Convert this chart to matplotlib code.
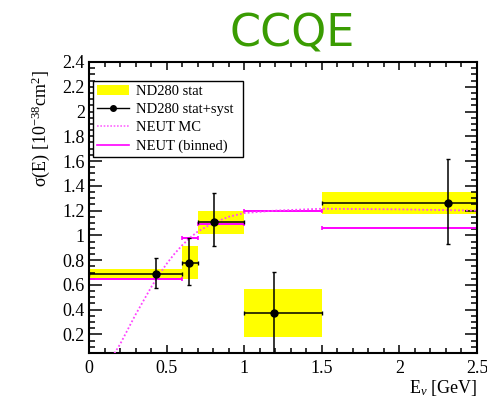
import numpy as np
import matplotlib
matplotlib.use("Agg")
import matplotlib.pyplot as plt
from matplotlib.patches import Rectangle
from matplotlib.ticker import MultipleLocator

plt.rcParams["font.family"] = ["Liberation Serif", "DejaVu Serif"]
plt.rcParams["mathtext.fontset"] = "custom"
plt.rcParams["mathtext.rm"] = "Liberation Serif"
plt.rcParams["mathtext.it"] = "Liberation Serif:italic"

# energy bins [GeV]
bin_lo = [0.0, 0.6, 0.7, 1.0, 1.5]
bin_hi = [0.6, 0.7, 1.0, 1.5, 2.5]

# ND280 measurement
pt_x = [0.43, 0.645, 0.805, 1.19, 2.31]
pt_y = [0.688, 0.78, 1.105, 0.372, 1.262]
stat_err = [0.044, 0.133, 0.093, 0.194, 0.088]
tot_err_lo = [0.11, 0.18, 0.19, 0.33, 0.33]
tot_err_hi = [0.13, 0.20, 0.24, 0.33, 0.355]

# NEUT prediction, binned
neut_binned = [0.645, 0.975, 1.09, 1.195, 1.06]

# NEUT MC curve
mc_e = [0.15, 0.2, 0.25, 0.3, 0.35, 0.4, 0.45, 0.5, 0.55, 0.6, 0.65, 0.7,
        0.8, 0.9, 1.0, 1.2, 1.5, 2.0, 2.5]
mc_xs = [0.02, 0.12, 0.24, 0.36, 0.47, 0.58, 0.68, 0.77, 0.85, 0.92, 0.98,
         1.03, 1.10, 1.15, 1.18, 1.20, 1.215, 1.21, 1.20]

x_ticks = [0, 0.5, 1, 1.5, 2, 2.5]
x_labels = ["0", "0.5", "1", "1.5", "2", "2.5"]
y_ticks = [0.2, 0.4, 0.6, 0.8, 1.0, 1.2, 1.4, 1.6, 1.8, 2.0, 2.2, 2.4]
y_labels = ["0.2", "0.4", "0.6", "0.8", "1", "1.2", "1.4", "1.6",
            "1.8", "2", "2.2", "2.4"]

W, H = 487, 397
fig = plt.figure(figsize=(W / 100, H / 100), dpi=100)
ax = fig.add_axes([89 / W, 1 - 353 / H, 388 / W, 291 / H])

lo = np.array(bin_lo)
hi = np.array(bin_hi)
px = np.array(pt_x)
py = np.array(pt_y)
se = np.array(stat_err)

# stat boxes
for i in range(len(lo)):
    ax.add_patch(Rectangle((lo[i], py[i] - se[i]), hi[i] - lo[i], 2 * se[i],
                           facecolor="#ffff00", edgecolor="none", zorder=1))

# NEUT binned
mid = (lo + hi) / 2
ax.errorbar(mid, neut_binned, xerr=(hi - lo) / 2, fmt="none", ecolor="#ff00ff",
            elinewidth=1.4, capsize=1.5, capthick=1.2, zorder=2)

# NEUT MC
ax.plot(mc_e, mc_xs, ls=(0, (1, 1.2)), color="#ff44ff", lw=1.3, zorder=3)

# stat+syst
ax.errorbar(px, py, xerr=[px - lo, hi - px], yerr=[tot_err_lo, tot_err_hi],
            fmt="o", color="black", ms=5, elinewidth=1.1, capsize=1.5,
            capthick=1.0, zorder=4)

ax.set_xlim(0, 2.5)
ax.set_ylim(0.05, 2.4)
ax.set_xticks(x_ticks, x_labels)
ax.set_yticks(y_ticks, y_labels)
ax.xaxis.set_minor_locator(MultipleLocator(0.1))
ax.yaxis.set_minor_locator(MultipleLocator(0.05))
ax.tick_params(axis="both", which="both", direction="in", top=True,
               right=True, width=1.1, labelsize=13)
ax.tick_params(axis="x", which="major", length=6, pad=5)
ax.tick_params(axis="x", which="minor", length=3.5)
ax.tick_params(axis="y", which="major", length=9, pad=3)
ax.tick_params(axis="y", which="minor", length=4.5)
for s in ax.spines.values():
    s.set_linewidth(1.5)

# legend
h_stat = Rectangle((0, 0), 1, 1, facecolor="#ffff00", edgecolor="none")
h_tot = plt.Line2D([], [], marker="o", color="black", ms=4, lw=1.0)
h_mc = plt.Line2D([], [], ls=(0, (1, 1)), color="#ff66ff", lw=1.2)
h_bin = plt.Line2D([], [], color="#ff00ff", lw=1.2)
leg = ax.legend([h_stat, h_tot, h_mc, h_bin],
                ["ND280 stat", "ND280 stat+syst", "NEUT MC", "NEUT (binned)"],
                loc="upper left", bbox_to_anchor=(0.0103, 0.684, 0.387, 0.251),
                mode="expand", borderaxespad=0, fontsize=10.5,
                handlelength=2.2, handletextpad=0.5, labelspacing=0.35,
                borderpad=0.25, fancybox=False, framealpha=1)
leg.get_frame().set_edgecolor("black")
leg.get_frame().set_linewidth(1.0)
leg.set_zorder(10)

fig.text(41 / W, 1 - 70 / H, r"σ(E) [10$^{\mathrm{-38}}$cm$^{\mathrm{2}}$]",
         rotation=90, ha="center", va="top", fontsize=13)
fig.text(477 / W, 1 - 393 / H, r"E$_{\nu}$ [GeV]", ha="right",
         va="baseline", fontsize=13)

fig.text(292 / W, 1 - 34 / H, "CCQE", ha="center", va="center",
         color="#3a9c02", fontsize=32, family="DejaVu Sans")

fig.savefig("out.png", dpi=100)
